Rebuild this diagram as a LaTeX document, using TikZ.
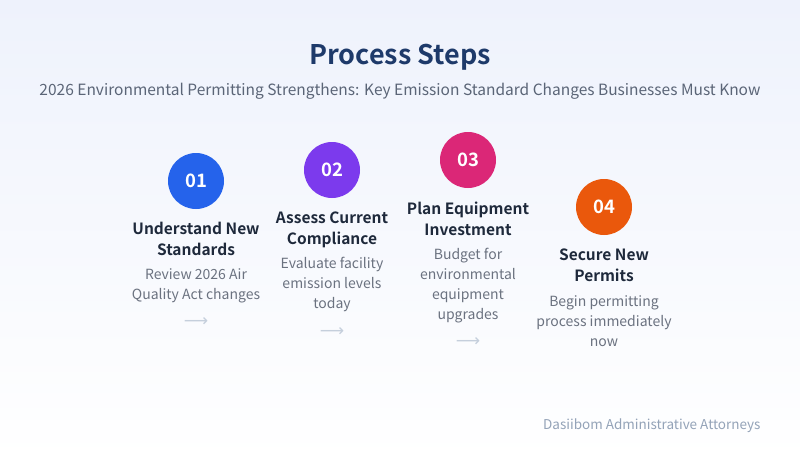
\documentclass[tikz,border=0pt]{standalone}
\usepackage{fontspec}
\setmainfont{Noto Sans CJK KR}[BoldFont={Noto Sans CJK KR Bold}]
\newfontfamily\symfont{DejaVu Sans}
\definecolor{bgtop}{HTML}{EEF2FC}
\definecolor{bgbot}{HTML}{FFFFFF}
\definecolor{titlecol}{HTML}{1E3A6A}
\definecolor{subcol}{HTML}{5B6577}
\definecolor{headcol}{HTML}{1E293B}
\definecolor{desccol}{HTML}{6B7280}
\definecolor{arrowcol}{HTML}{C5CFDC}
\definecolor{footcol}{HTML}{94A3B8}
\definecolor{cA}{HTML}{2563EB}
\definecolor{cB}{HTML}{7C3AED}
\definecolor{cC}{HTML}{DB2777}
\definecolor{cD}{HTML}{EA580C}
\tikzset{
  numcirc/.style={circle, minimum size=56pt, inner sep=0pt, text=white, font=\bfseries\fontsize{18.5}{18.5}\selectfont},
  headtext/.style={text=headcol, align=center, font=\bfseries\fontsize{15.5}{21}\selectfont, anchor=north, inner sep=0pt},
  desctext/.style={text=desccol, align=center, font=\fontsize{14}{20}\selectfont, anchor=north, inner sep=0pt},
  arrowtext/.style={text=arrowcol, font=\symfont\fontsize{17}{17}\selectfont, inner sep=0pt},
}
\begin{document}
\begin{tikzpicture}[x=1pt,y=-1pt]
\shade[top color=bgtop, bottom color=bgbot] (0,0) rectangle (800,460);
\useasboundingbox (0,0) rectangle (800,460);
\node[text=titlecol, font=\bfseries\fontsize{27}{27}\selectfont] (title) at (400,57) {Process Steps};
\node[text=subcol, font=\fontsize{15.5}{16}\selectfont] (subtitle) at (400,91) {2026 Environmental Permitting Strengthens: Key Emission Standard Changes Businesses Must Know};
% step 1
\node[numcirc, fill=cA] (c1) at (196,181) {01};
\node[headtext] (h1) at (196,222) {Understand New\\Standards};
\node[desctext] (d1) at (196,268) {Review 2026 Air\\Quality Act changes};
\node[arrowtext] (a1) at (196,322) {⟶};
% step 2
\node[numcirc, fill=cB] (c2) at (332,170) {02};
\node[headtext] (h2) at (332,212) {Assess Current\\Compliance};
\node[desctext] (d2) at (332,257) {Evaluate facility\\emission levels\\today};
\node[arrowtext] (a2) at (332,332) {⟶};
% step 3
\node[numcirc, fill=cC] (c3) at (468,160) {03};
\node[headtext] (h3) at (468,202) {Plan Equipment\\Investment};
\node[desctext] (d3) at (468,248) {Budget for\\environmental\\equipment\\upgrades};
\node[arrowtext] (a3) at (468,342) {⟶};
% step 4
\node[numcirc, fill=cD] (c4) at (604,207) {04};
\node[headtext] (h4) at (604,249) {Secure New\\Permits};
\node[desctext] (d4) at (604,295) {Begin permitting\\process immediately\\now};
% footer
\node[text=footcol, font=\fontsize{13.5}{14}\selectfont, anchor=east] (foot) at (764,426) {Dasiibom Administrative Attorneys};
\end{tikzpicture}
\end{document}
